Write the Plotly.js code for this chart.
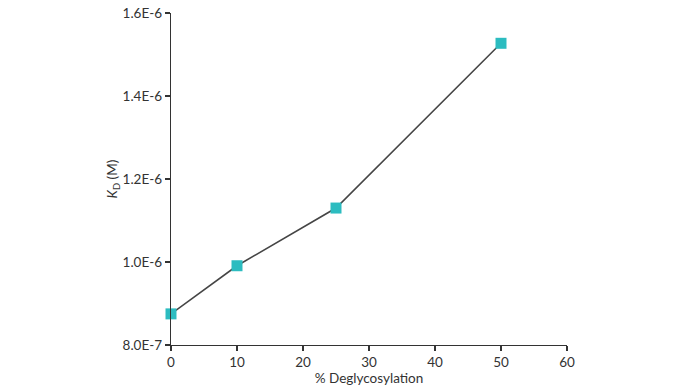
<!DOCTYPE html>
<html>
<head>
<meta charset="utf-8">
<script src="https://cdn.plot.ly/plotly-3.0.1.min.js"></script>
<style>html,body{margin:0;padding:0;background:#fff;}#chart{width:690px;height:388px;}</style>
</head>
<body>
<div id="chart"></div>
<script>
var deglycosylation = [0, 10, 25, 50];
var kd = [8.75e-7, 9.91e-7, 1.13e-6, 1.527e-6];
var yTickVals = [8.0e-7, 1.0e-6, 1.2e-6, 1.4e-6, 1.6e-6];
var yTickText = ['8.0E-7', '1.0E-6', '1.2E-6', '1.4E-6', '1.6E-6'];
var xTickVals = [0, 10, 20, 30, 40, 50, 60];

var trace = {
  x: deglycosylation,
  y: kd,
  type: 'scatter',
  mode: 'lines+markers',
  line: {color: '#454545', width: 1.6},
  marker: {symbol: 'square', size: 11, color: '#2cbcc0'},
  cliponaxis: false
};

var layout = {
  width: 690, height: 388,
  margin: {l: 171, r: 123, t: 13, b: 43},
  paper_bgcolor: '#ffffff', plot_bgcolor: '#ffffff',
  font: {family: 'Lato, "Open Sans", sans-serif', size: 13, color: '#333333'},
  showlegend: false,
  xaxis: {
    range: [0, 60],
    tickvals: xTickVals,
    ticks: 'outside', ticklen: 5, tickwidth: 1.2, tickcolor: '#333',
    showline: true, linecolor: '#333', linewidth: 1.2,
    showgrid: false, zeroline: false,
    tickfont: {size: 13.5, color: '#333'},
    title: {text: '% Deglycosylation', font: {size: 13.5, color: '#333'}, standoff: 3}
  },
  yaxis: {
    range: [8.0e-7, 1.6e-6],
    tickvals: yTickVals, ticktext: yTickText,
    ticks: 'outside', ticklen: 5, tickwidth: 1.2, tickcolor: '#333',
    showline: true, linecolor: '#333', linewidth: 1.2,
    showgrid: false, zeroline: false,
    tickfont: {size: 13.5, color: '#333'},
    title: {text: '<i>K</i><sub>D</sub> (M)', font: {size: 13.5, color: '#333'}, standoff: 1}
  }
};

Plotly.newPlot('chart', [trace], layout, {displayModeBar: false, staticPlot: true});
</script>
</body>
</html>
